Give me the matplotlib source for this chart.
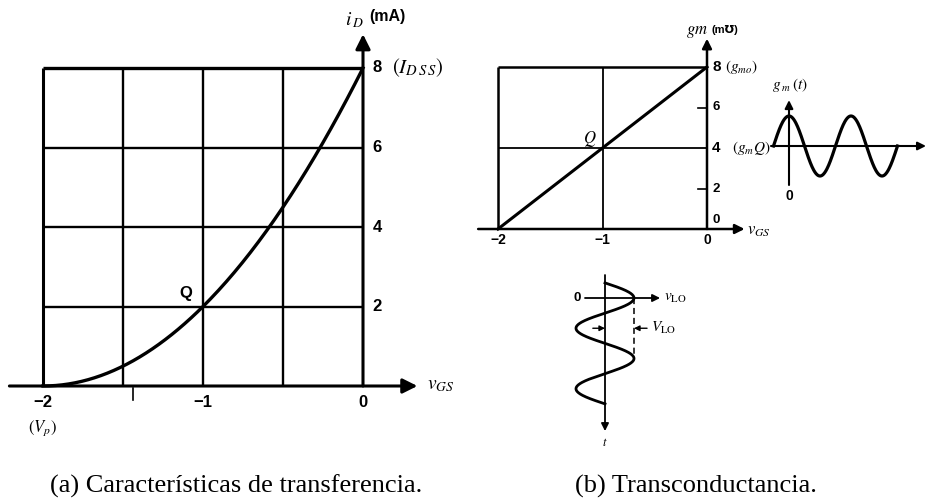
import numpy as np
import matplotlib
matplotlib.use("Agg")
import matplotlib.pyplot as plt

plt.rcParams["mathtext.fontset"] = "stix"
plt.rcParams["font.family"] = ["Liberation Sans", "DejaVu Sans"]

# ---- (a) transfer characteristic --------------------------------------
I_DSS = 8.0          # mA
V_P = -2.0           # V
Q_A = (-1.0, 2.0)    # operating point
a_xgrid = [-2.0, -1.5, -1.0, -0.5]
a_ygrid = [2.0, 4.0, 6.0, 8.0]
a_yticks = [2, 4, 6]
a_xticks = [-2, -1, 0]

# ---- (b) transconductance ---------------------------------------------
G_MO = 8.0
Q_B = (-1.0, 4.0)
b_xgrid = [-2.0, -1.0]
b_ygrid = [4.0, 8.0]
b_minor = [2, 6]
b_yticks = [0, 2, 6]
b_xticks = [-2, -1, 0]

# ---- small time sketches ------------------------------------------------
CYCLES = 2.0         # cycles shown in each sketch
PHASE0 = -0.25       # sketches start a quarter cycle before the crest

W, H = 926, 499
fig = plt.figure(figsize=(W / 100, H / 100), dpi=100)
fig.patch.set_facecolor("white")


def place(px0, px1, py0, py1, xlim, ylim):
    """Axes whose data window (xlim, ylim) fills the pixel box given."""
    ax = fig.add_axes([px0 / W, 1 - py1 / H, (px1 - px0) / W, (py1 - py0) / H])
    ax.set_xlim(*xlim)
    ax.set_ylim(*ylim)
    ax.axis("off")
    return ax


def arrow(ax, p0, p1, lw=2.0, ms=18, style="-|>"):
    ax.annotate("", xy=p1, xytext=p0, annotation_clip=False,
                arrowprops=dict(arrowstyle=style, lw=lw, color="black",
                                mutation_scale=ms, shrinkA=0, shrinkB=0))


def minus(t):
    return "\u2212" + str(abs(t)) if t < 0 else str(t)


sans = dict(family=["Liberation Sans", "DejaVu Sans"], weight="bold", color="black")

# ======================= panel (a) =======================================
axA = place(43, 363, 68, 386, (-2, 0), (0, 8))
for x in a_xgrid:
    axA.plot([x, x], [0, 8], color="black", lw=2.2 if x == -2 else 1.7,
             clip_on=False, solid_capstyle="butt")
for y in a_ygrid:
    axA.plot([-2, 0], [y, y], color="black", lw=2.4 if y == 8 else 1.7,
             clip_on=False, solid_capstyle="butt")
arrow(axA, (-2.21, 0), (0.34, 0), lw=2.2, ms=22)
arrow(axA, (0, 0), (0, 8.85), lw=2.2, ms=22)
axA.plot([-1.44, -1.44], [-0.05, -0.35], color="black", lw=1.2, clip_on=False)

v = np.linspace(V_P, 0, 200)
iD = I_DSS * (1 - v / V_P) ** 2
axA.plot(v, iD, color="black", lw=2.4, clip_on=False)

for t in a_yticks:
    axA.text(0.06, t, str(t), fontsize=12, ha="left", va="center", **sans)
axA.text(0.06, 8, "8", fontsize=12, ha="left", va="center", **sans)
axA.text(0.18, 8, r"$(I_{D\,S\,S})$", fontsize=15, ha="left", va="center")
axA.text(-0.11, 9.2, r"$i_{\,D}$", fontsize=14, ha="left", va="center")
axA.text(0.04, 9.3, "(mA)", fontsize=11.5, ha="left", va="center", **sans)
for t in a_xticks:
    axA.text(t, -0.42, minus(t), fontsize=12, ha="center", va="center", **sans)
axA.text(-2, -1.06, r"$(V_p)$", fontsize=12, ha="center", va="center")
axA.text(0.4, 0.0, r"$v_{GS}$", fontsize=14, ha="left", va="center")
axA.text(Q_A[0] - 0.07, Q_A[1] + 0.32, "Q", fontsize=12, ha="right",
         va="center", **sans)

# ======================= panel (b) =======================================
axB = place(498, 707, 67, 229, (-2, 0), (0, 8))
for x in b_xgrid:
    axB.plot([x, x], [0, 8], color="black", lw=1.8 if x == -2 else 1.3,
             clip_on=False, solid_capstyle="butt")
for y in b_ygrid:
    axB.plot([-2, 0], [y, y], color="black", lw=1.8 if y == 8 else 1.3,
             clip_on=False, solid_capstyle="butt")
for y in b_minor:
    axB.plot([-0.09, 0], [y, y], color="black", lw=1.2, clip_on=False)
arrow(axB, (-2.19, 0), (0.36, 0), lw=1.8, ms=14)
arrow(axB, (0, 0), (0, 9.4), lw=1.8, ms=14)
axB.plot([-2, 0], [0, G_MO], color="black", lw=2.2, clip_on=False)

for t in b_yticks:
    axB.text(0.05, t + (0.45 if t == 0 else 0), str(t), fontsize=9.5,
             ha="left", va="center", **sans)
axB.text(0.05, 8, "8", fontsize=11, ha="left", va="center", **sans)
axB.text(0.05, 4, "4", fontsize=11, ha="left", va="center", **sans)
axB.text(0.17, 8, r"$(g_{m o})$", fontsize=11, ha="left", va="center")
axB.text(0.24, 4, r"$(g_{m}Q)$", fontsize=11, ha="left", va="center")
axB.text(-0.2, 9.75, r"$gm$", fontsize=12, ha="left", va="center")
axB.text(0.04, 9.85, "(m\u2127)", fontsize=8, ha="left", va="center", **sans)
for t in b_xticks:
    axB.text(t, -0.55, minus(t), fontsize=10, ha="center", va="center", **sans)
axB.text(0.38, -0.1, r"$v_{GS}$", fontsize=12, ha="left", va="center")
axB.text(Q_B[0] - 0.06, Q_B[1] + 0.45, r"$\mathbf{\mathit{Q}}$", fontsize=12,
         ha="right", va="center")

# ======================= g_m(t) sketch ===================================
PER_G = 62.0   # px per cycle
AMP_G = 30.0   # px per unit amplitude
x0g, y0g = 789, 146
axG = place(760, 920, 80, 205,
            ((760 - x0g) / PER_G, (920 - x0g) / PER_G),
            ((y0g - 205) / AMP_G, (y0g - 80) / AMP_G))
tg = np.linspace(PHASE0, PHASE0 + CYCLES, 300)
axG.plot(tg, np.cos(2 * np.pi * tg), color="black", lw=2.3, clip_on=False)
arrow(axG, ((771 - x0g) / PER_G, 0), ((926 - x0g) / PER_G, 0), lw=1.5, ms=12)
arrow(axG, (0, -1.3), (0, 1.53), lw=1.5, ms=12)
axG.text(0, -1.68, "0", fontsize=10, ha="center", va="center", **sans)
axG.text(-0.28, 2.05, r"$g_{\;m}\,(t)$", fontsize=11, ha="left", va="center")

# ======================= v_LO(t) sketch ==================================
PER_V = 60.5
AMP_V = 29.0
x0v, y0v = 605, 298
axV = place(560, 720, 265, 445,
            ((560 - x0v) / AMP_V, (720 - x0v) / AMP_V),
            ((445 - y0v) / PER_V, (265 - y0v) / PER_V))
tv = np.linspace(PHASE0, PHASE0 + CYCLES, 300)
axV.plot(np.cos(2 * np.pi * tv), tv, color="black", lw=2.0, clip_on=False)
arrow(axV, (-0.69, 0), (1.9, 0), lw=1.3, ms=11)
arrow(axV, (0, -0.38), (0, 2.2), lw=1.3, ms=11)
axV.plot([1, 1], [0, 1], color="black", lw=1.1, ls=(0, (4, 2.5)), clip_on=False)
arrow(axV, (-0.42, 0.5), (0, 0.5), lw=1.0, ms=8)
arrow(axV, (1.45, 0.5), (1, 0.5), lw=1.0, ms=8)
axV.text(-0.95, 0, "0", fontsize=9.5, ha="center", va="center", **sans)
axV.text(2.05, 0, r"$v_{\mathrm{LO}}$", fontsize=11, ha="left", va="center")
axV.text(1.6, 0.5, r"$V_{\mathrm{LO}}$", fontsize=11, ha="left", va="center")
axV.text(0, 2.4, r"$t$", fontsize=9, ha="center", va="center")

# ======================= captions ========================================
serif = ["Liberation Serif", "DejaVu Serif"]
fig.text(236 / W, 1 - 493 / H, "(a) Características de transferencia.",
         fontsize=19, family=serif, ha="center", va="baseline")
fig.text(696 / W, 1 - 493 / H, "(b) Transconductancia.",
         fontsize=19, family=serif, ha="center", va="baseline")

fig.savefig("out.png", dpi=100, facecolor="white")
